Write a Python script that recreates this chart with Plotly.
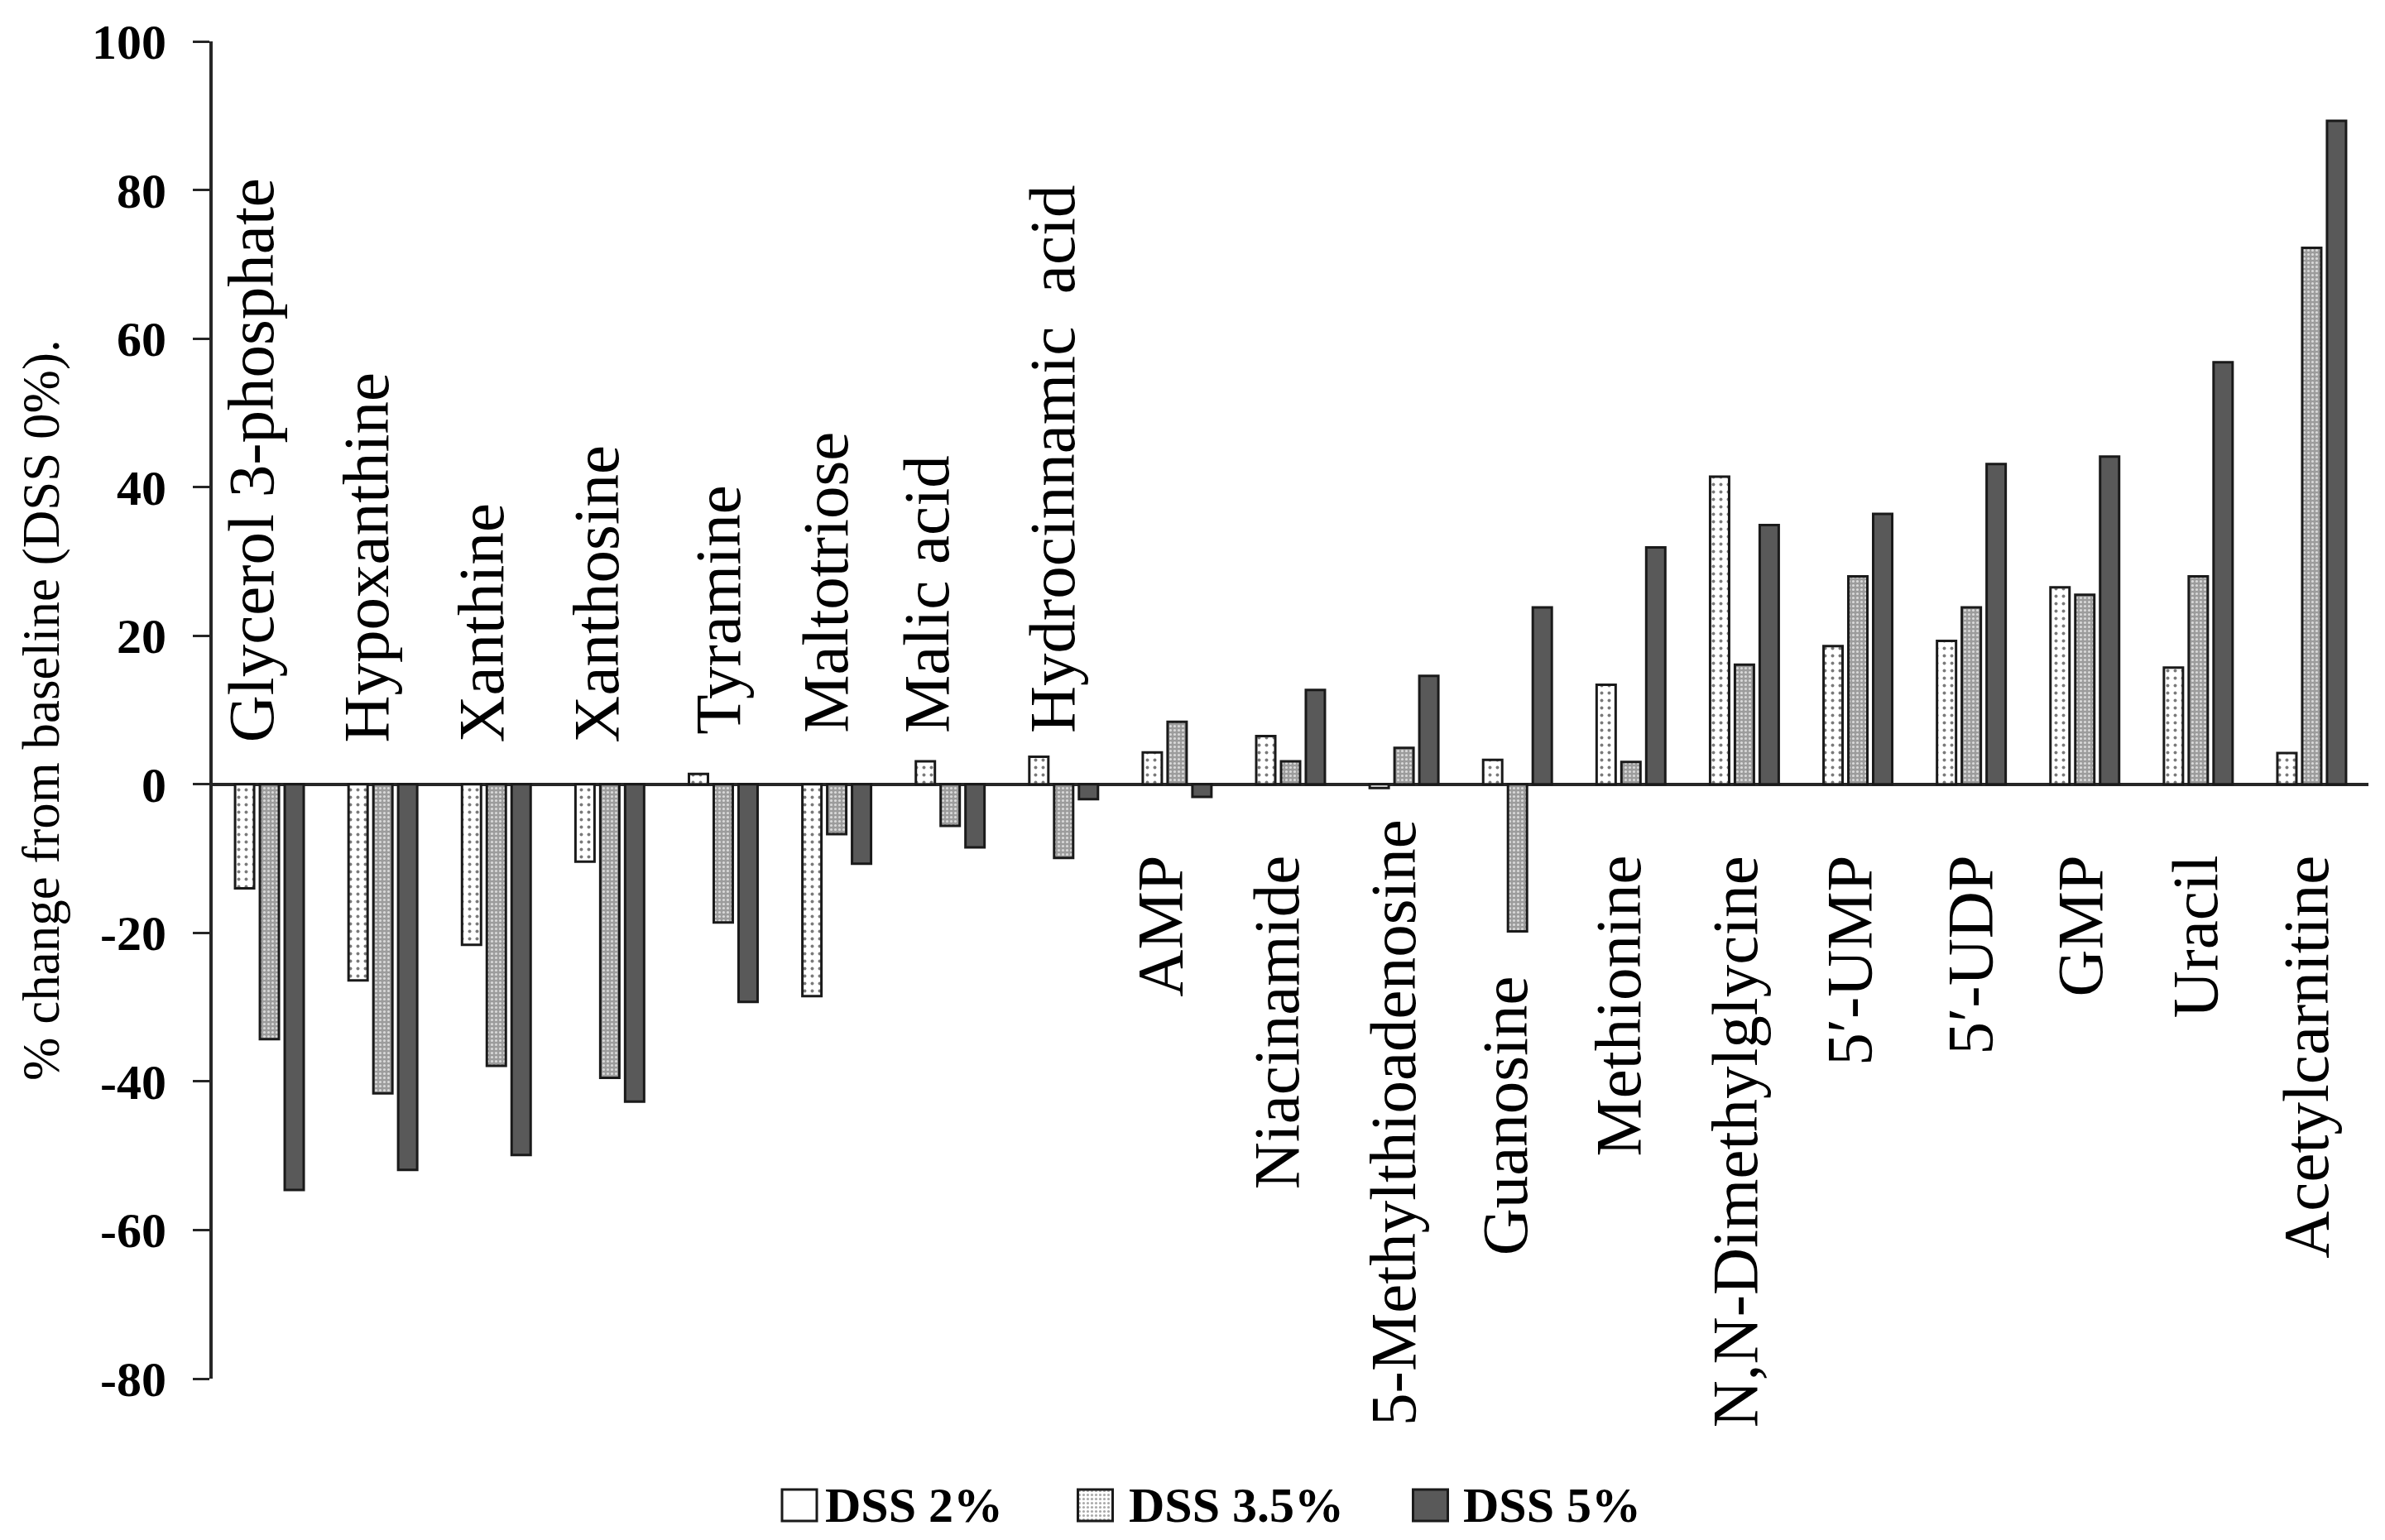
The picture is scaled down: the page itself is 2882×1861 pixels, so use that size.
import plotly.graph_objects as go

# ---------------- data ----------------
categories = [
    "Glycerol 3-phosphate", "Hypoxanthine", "Xanthine", "Xanthosine", "Tyramine",
    "Maltotriose", "Malic acid", "Hydrocinnamic\u00a0 acid", "AMP", "Niacinamide",
    "5-Methylthioadenosine", "Guanosine", "Methionine", "N,N-Dimethylglycine",
    "5\u2032-UMP", "5\u2032-UDP", "GMP", "Uracil", "Acetylcarnitine",
]
dss_2 = [-14.0, -26.4, -21.6, -10.4, 1.4, -28.5, 3.1, 3.7, 4.3, 6.5,
         -0.5, 3.3, 13.4, 41.4, 18.6, 19.3, 26.5, 15.7, 4.2]
dss_35 = [-34.3, -41.6, -37.9, -39.5, -18.6, -6.7, -5.6, -9.9, 8.4, 3.1,
          4.9, -19.8, 3.0, 16.1, 28.0, 23.8, 25.5, 28.0, 72.2]
dss_5 = [-54.6, -51.9, -49.9, -42.7, -29.3, -10.7, -8.5, -2.0, -1.7, 12.7,
         14.6, 23.8, 31.9, 34.9, 36.4, 43.1, 44.1, 56.8, 89.3]
series_names = ["DSS 2%", "DSS 3.5%", "DSS 5%"]
y_tickvals = [-80, -60, -40, -20, 0, 20, 40, 60, 80, 100]
y_ticktext = ["-80", "-60", "-40", "-20", "0", "20", "40", "60", "80", "100"]
y_title = "% change from baseline (DSS 0%)."

# ---------------- styles ----------------
W, H = 2882, 1861
M_L, M_R, M_T, M_B = 257, 20, 50, 15
PLOT_W = W - M_L - M_R
PLOT_H = H - M_T - M_B
MAIN_BOTTOM_PX = 1666
main_dom0 = (H - M_B - MAIN_BOTTOM_PX) / PLOT_H

AXIS_COL = "#262626"
OUTLINE = "#1a1a1a"
SERIF = "Liberation Serif, Times New Roman, serif"

patterns = [
    dict(shape=".", bgcolor="#ffffff", fgcolor="#7a7a7a", size=9, solidity=0.15, fillmode="replace"),
    dict(shape=".", bgcolor="#9c9c9c", fgcolor="#dadada", size=5, solidity=0.3, fillmode="replace"),
    dict(shape="", bgcolor="#595959", fgcolor="#595959", size=6, solidity=0.3, fillmode="replace"),
]
solid_colors = ["#ffffff", "#a8a8a8", "#595959"]

# label placement (side, pixel gap, horizontal shift)
label_side = ["above"] * 8 + ["below"] * 11
label_gap = [48, 48, 48, 48, 58, 60, 60, 60,
             84, 84, 40, 52, 84, 84, 84, 84, 84, 84, 84]
label_xshift = [-22, -20, -18, -16, -6, -13, -28, -14,
                -21, -17, -13, -15, -15, -12, -10, -2, -6, -4, -7]

fig = go.Figure()
for name, vals, pat, col in zip(series_names, [dss_2, dss_35, dss_5], patterns, solid_colors):
    fig.add_trace(go.Bar(
        x=categories, y=vals, name=name, showlegend=False,
        marker=dict(color=col, pattern=pat, line=dict(color=OUTLINE, width=3)),
        xaxis="x", yaxis="y",
    ))

# ---- custom legend (swatches drawn as bars on a helper axis in pixel units) ----
leg_swatch_x = [966, 1323.5, 1728.5]
leg_text_x = [995, 1362, 1766]
sw_w = 42
sw_base, sw_h = 8, 38
fig.add_trace(go.Bar(
    x=leg_swatch_x, y=[sw_h] * 3, base=[sw_base] * 3, width=[sw_w] * 3,
    showlegend=False, hoverinfo="skip",
    marker=dict(
        color=solid_colors,
        pattern=dict(
            shape=[p["shape"] for p in patterns],
            bgcolor=[p["bgcolor"] for p in patterns],
            fgcolor=[p["fgcolor"] for p in patterns],
            size=[p["size"] for p in patterns],
            solidity=[p["solidity"] for p in patterns],
            fillmode="replace",
        ),
        line=dict(color=OUTLINE, width=3),
    ),
    xaxis="x2", yaxis="y2",
))

annotations = []
for i, cat in enumerate(categories):
    vals = [dss_2[i], dss_35[i], dss_5[i]]
    if label_side[i] == "above":
        annotations.append(dict(
            x=cat, y=0, xref="x", yref="y", text=cat, textangle=-90,
            showarrow=False, xanchor="center", yanchor="bottom",
            xshift=label_xshift[i], yshift=label_gap[i],
            font=dict(family=SERIF, size=79, color="#000000"),
        ))
    else:
        anchor = min(vals) if min(vals) < -10 else 0
        annotations.append(dict(
            x=cat, y=anchor, xref="x", yref="y", text=cat, textangle=-90,
            showarrow=False, xanchor="center", yanchor="top",
            xshift=label_xshift[i], yshift=-label_gap[i],
            font=dict(family=SERIF, size=79, color="#000000"),
        ))

for name, tx in zip(series_names, leg_text_x):
    annotations.append(dict(
        x=tx, y=sw_base + sw_h / 2, xref="x2", yref="y2", text=name,
        showarrow=False, xanchor="left", yanchor="middle",
        font=dict(family=SERIF, size=60, color="#000000", weight="bold"),
    ))

# y-axis title
annotations.append(dict(
    x=(50 - M_L) / PLOT_W, y=(main_dom0 + 1) / 2, xref="paper", yref="paper",
    text=y_title, textangle=-90, showarrow=False,
    xanchor="center", yanchor="middle",
    font=dict(family=SERIF, size=63, color="#000000"),
))

fig.update_layout(
    width=W, height=H,
    margin=dict(l=M_L, r=M_R, t=M_T, b=M_B, autoexpand=False),
    paper_bgcolor="white", plot_bgcolor="white",
    barmode="group", bargap=0.344, bargroupgap=0.233,
    showlegend=False,
    xaxis=dict(
        type="category", domain=[0, 1], anchor="y", automargin=False,
        showticklabels=False, ticks="", showline=False, showgrid=False,
        zeroline=False, range=[-0.5, len(categories) - 0.5],
    ),
    yaxis=dict(
        domain=[main_dom0, 1], anchor="x", range=[-80, 100], automargin=False,
        tickvals=y_tickvals, ticktext=y_ticktext,
        ticks="outside", ticklen=20, tickwidth=3, tickcolor=AXIS_COL,
        showline=True, linewidth=4, linecolor=AXIS_COL,
        showgrid=False, zeroline=True, zerolinecolor=AXIS_COL, zerolinewidth=4,
        tickfont=dict(family=SERIF, size=60, color="#000000", weight="bold"),
        ticklabelstandoff=20,
    ),
    xaxis2=dict(domain=[0, 1], anchor="y2", range=[M_L, W - M_R], visible=False,
                fixedrange=True, automargin=False),
    yaxis2=dict(domain=[0, main_dom0 - 0.01], anchor="x2",
                range=[0, (main_dom0 - 0.01) * PLOT_H], visible=False,
                fixedrange=True, automargin=False),
    annotations=annotations,
)

fig.write_html(
    "out.html",
    config={"displayModeBar": False},
    post_script="document.body.style.margin='0';document.body.style.overflow='hidden';",
)
